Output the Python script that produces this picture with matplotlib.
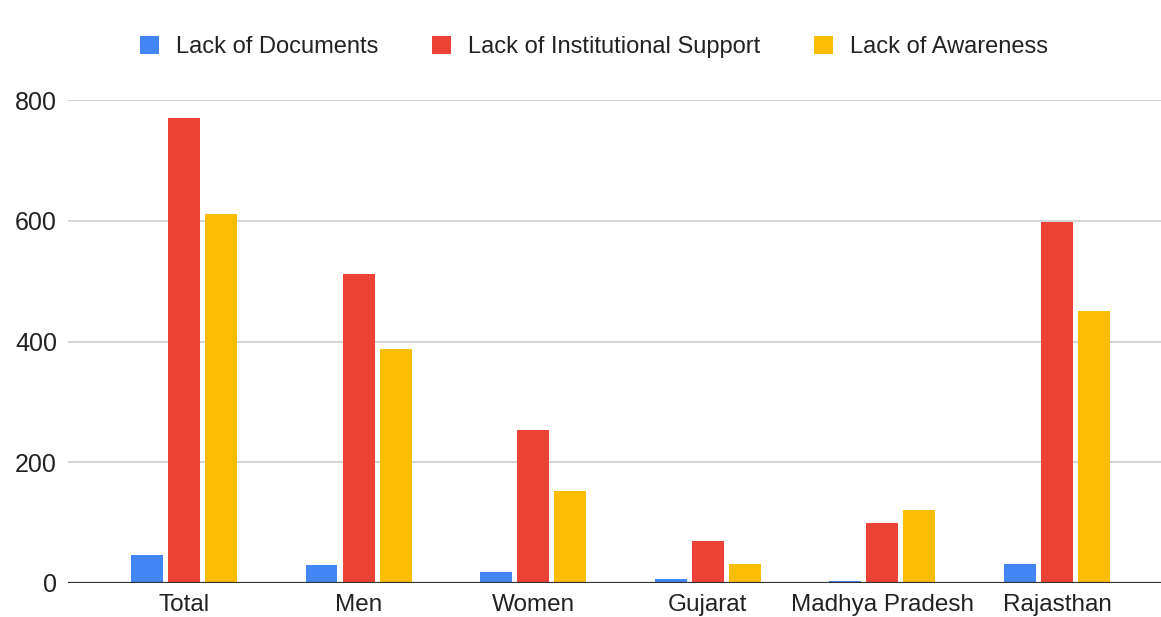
import matplotlib
matplotlib.use("Agg")
import matplotlib.pyplot as plt
import numpy as np

plt.rcParams['font.family'] = ['Liberation Sans', 'DejaVu Sans']

categories = ["Total", "Men", "Women", "Gujarat", "Madhya Pradesh", "Rajasthan"]
series_names = ["Lack of Documents", "Lack of Institutional Support", "Lack of Awareness"]
documents = [47, 29, 18, 7, 4, 32]
institutional = [770, 512, 254, 69, 100, 598]
awareness = [612, 388, 152, 32, 121, 450]
y_ticks = [0, 200, 400, 600, 800]

colors = ["#4285F4", "#EA4335", "#FBBC04"]

fig = plt.figure(figsize=(11.61, 6.17), dpi=100)
ax = fig.add_axes([68 / 1161, 34 / 617, 1 - 68 / 1161, 483 / 617])

x = np.arange(len(categories))
step = 0.212
width = 0.183
for i, (name, vals) in enumerate(zip(series_names, [documents, institutional, awareness])):
    ax.bar(x + (i - 1) * step, vals, width, color=colors[i], label=name, zorder=3)

ax.set_xlim(-0.664, 5.596)
ax.set_ylim(0, 800)
ax.set_yticks(y_ticks)
ax.yaxis.grid(True, color="#cccccc", linewidth=1.2, zorder=0)
ax.axhline(0, color="#333333", linewidth=1.6, zorder=4)
for s in ax.spines.values():
    s.set_visible(False)

ax.set_xticks(x)
ax.set_xticklabels(categories)
ax.tick_params(axis="both", length=0, labelcolor="#222222")
ax.tick_params(axis="x", labelsize=17.5, pad=8)
ax.tick_params(axis="y", labelsize=18, pad=8)

leg = fig.legend(loc="center", bbox_to_anchor=(594 / 1161, 1 - 47 / 617), ncol=3,
                 frameon=False, fontsize=17, handlelength=0.8, handleheight=0.8,
                 handletextpad=0.7, columnspacing=2.3)
for t in leg.get_texts():
    t.set_color("#222222")

fig.savefig("out.png", dpi=100)
